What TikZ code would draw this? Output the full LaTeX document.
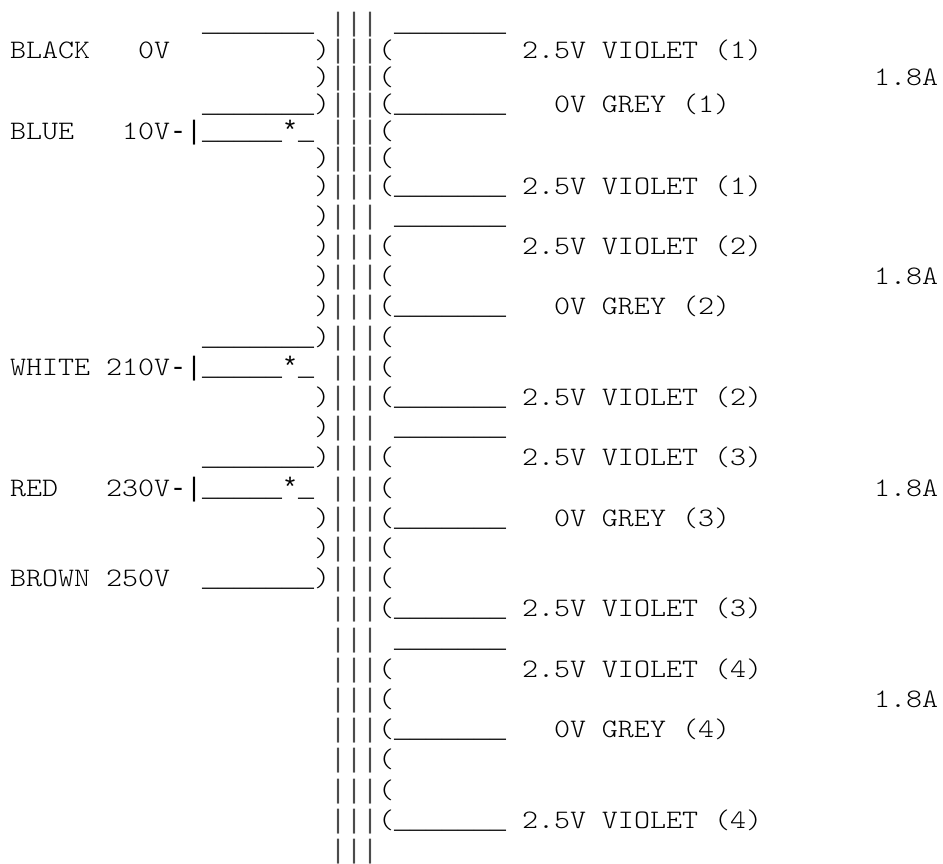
\documentclass[tikz,border=0pt]{standalone}
\usepackage{fontspec}
\setmonofont[FakeStretch=1.143]{Latin Modern Mono Light}
\newfontfamily\artfont{Liberation Mono}
\newcommand{\wirebar}{\_\_\_\_\_\_\_}
\tikzset{
  txt/.style={anchor=base west,inner sep=0pt,outer sep=0pt,
    font=\ttfamily\fontsize{26.67}{30}\selectfont},
  art/.style={txt,font=\artfont\fontsize{26.67}{30}\selectfont},
  declare function={rowy(\r)=\r<=5 ? 194-27*(5-\r) : 194+30.2*(\r-5);},
}
\begin{document}
\begin{tikzpicture}[x=16pt,y=-1pt]
  \useasboundingbox (-0.625,0) rectangle (58.3125,864);
  % core
  \foreach \r in {-1,...,27}
    \node[art,text=black!70] (core\r) at (20,{rowy(\r)}) {|||};
  % primary
  \foreach \r in {0,1,2,4,5,6,7,8,9,10,12,13,14,16,17,18}
    \node[txt] (pri\r) at (19,{rowy(\r)}) {)};
  \foreach \r in {-1,2,10,14,18}
    \node[art] (pribar\r) at (12,{rowy(\r)}) {\wirebar};
  \foreach \r/\n/\c/\v in {0/BLACK/8/0V,18/BROWN/6/250V,3/BLUE/7/10V,11/WHITE/6/210V,15/RED/6/230V}{
    \node[txt] (name\r) at (0,{rowy(\r)}) {\n};
    \node[txt] (volt\r) at (\c,{rowy(\r)}) {\v};
  }
  \foreach \r in {3,11,15}
    \node[art] (tap\r) at (10,{rowy(\r)}) {-|\_\_\_\_\_*\_};
  % secondary
  \foreach \r in {0,1,2,3,4,5,7,8,9,10,11,12,14,15,16,17,18,19,21,22,23,24,25,26}
    \node[txt] (sec\r) at (23,{rowy(\r)}) {(};
  \foreach \r in {-1,2,5,6,9,12,13,16,19,20,23,26}
    \node[art] (secbar\r) at (24,{rowy(\r)}) {\wirebar};
  \foreach \r/\w in {0/1,5/1,7/2,12/2,14/3,19/3,21/4,26/4}
    \node[txt] (violet\r) at (32,{rowy(\r)}) {2.5V VIOLET (\w)};
  \foreach \r/\w in {2/1,9/2,16/3,23/4}
    \node[txt] (grey\r) at (34,{rowy(\r)}) {0V GREY (\w)};
  \foreach \r in {1,8,15,22}
    \node[txt] (amp\r) at (54,{rowy(\r)}) {1.8A};
\end{tikzpicture}
\end{document}
